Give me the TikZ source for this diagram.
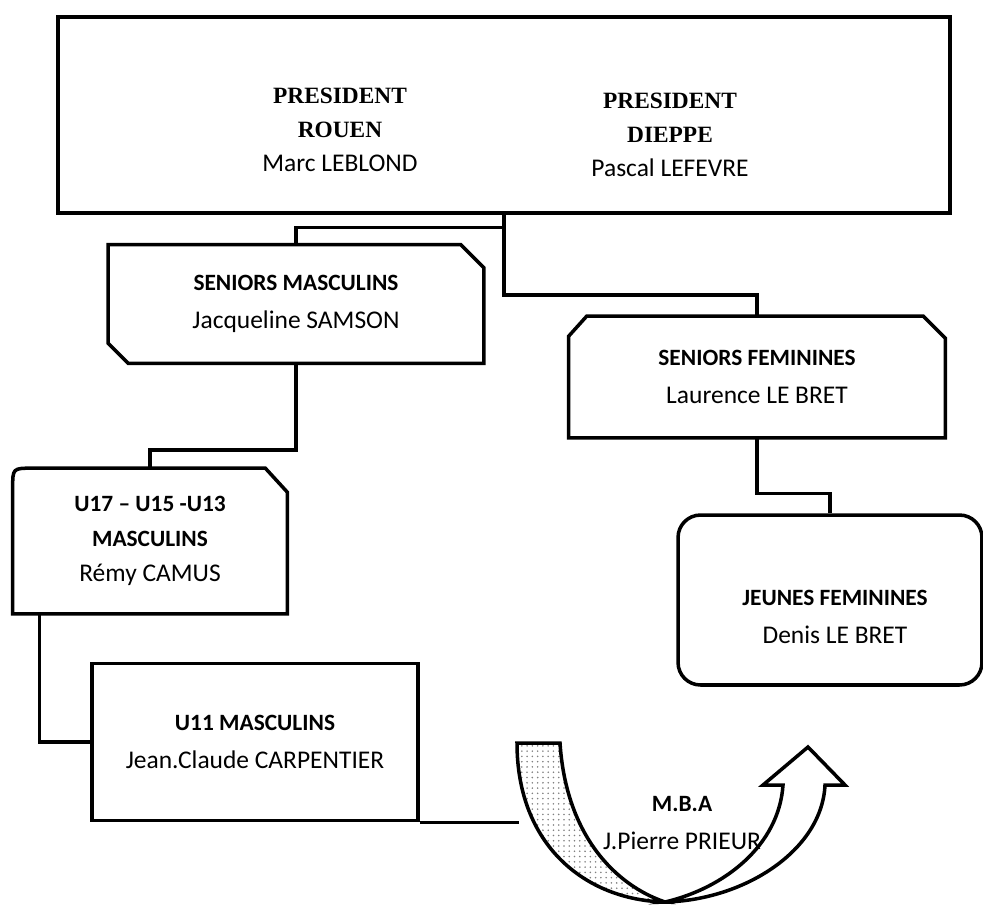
\documentclass[tikz,border=0pt]{standalone}
\usepackage{fontspec}
\setmainfont{Carlito}
\newfontfamily\presfont{Liberation Serif}
\usetikzlibrary{calc,patterns}
\newcommand\entete[1]{{\fontsize{13.3}{22}\selectfont\bfseries #1}}
\newcommand\chef[1]{{\presfont\bfseries\fontsize{13.3}{19.5}\selectfont #1}}
\begin{document}
\begin{tikzpicture}[x=0.02cm, y=-0.02cm,
  box/.style={line width=2pt},
  link/.style={line width=2pt},
  title/.style={align=center, font=\fontsize{14.5}{22}\selectfont}]
\useasboundingbox (0,0) rectangle (983,904);
% presidents
\node[draw, box, minimum width=17.84cm, minimum height=3.92cm] (pres) at (504,115) {};
\node[align=center, font=\fontsize{14.5}{19.5}\selectfont] (rouen) at (340,130)
  {\chef{PRESIDENT}\\\chef{ROUEN}\\Marc LEBLOND};
\node[align=center, font=\fontsize{14.5}{19.5}\selectfont] (dieppe) at (670,135)
  {\chef{PRESIDENT}\\\chef{DIEPPE}\\Pascal LEFEVRE};
% seniors
\node[title, minimum width=7.5cm, minimum height=2.36cm] (senmasc) at (296,304)
  {\entete{SENIORS MASCULINS}\\Jacqueline SAMSON};
\draw[box] (senmasc.north west) -- ($(senmasc.north east)+(-23,0)$) -- ($(senmasc.north east)+(0,23)$)
  -- (senmasc.south east) -- ($(senmasc.south west)+(20,0)$) -- ($(senmasc.south west)+(0,-20)$) -- cycle;
\node[title, minimum width=7.52cm, minimum height=2.42cm] (senfem) at (757,377)
  {\entete{SENIORS FEMININES}\\Laurence LE BRET};
\draw[box] (senfem.south west) -- ($(senfem.north west)+(0,20)$) -- ($(senfem.north west)+(18,0)$)
  -- ($(senfem.north east)+(-22,0)$) -- ($(senfem.north east)+(0,22)$) -- (senfem.south east) -- cycle;
% jeunes
\node[title, font=\fontsize{14.5}{20}\selectfont, minimum width=5.48cm, minimum height=2.9cm] (u17) at (150,541)
  {\entete{U17 – U15 -U13}\\\entete{MASCULINS}\\Rémy CAMUS};
\draw[box] (u17.south west) -- ($(u17.north west)+(0,20)$) .. controls (u17.north west) .. ($(u17.north west)+(20,0)$)
  -- ($(u17.north east)+(-22,0)$) -- ($(u17.north east)+(0,24)$) -- (u17.south east) -- cycle;
\node[draw, box, title, minimum width=6.52cm, minimum height=3.14cm] (u11) at (255,742)
  {\entete{U11 MASCULINS}\\Jean.Claude CARPENTIER};
\node[draw, box, rounded corners=0.45cm, minimum width=6.08cm, minimum height=3.4cm] (jf) at (830,600) {};
\node[title] (jftext) at (835,617) {\entete{JEUNES FEMININES}\\Denis LE BRET};
% liaisons
\draw[link] (pres.south) |- ($(senmasc.north)+(0,-17)$) -- (senmasc.north);
\draw[link] (pres.south) |- ($(senfem.north)+(0,-21)$) -- (senfem.north);
\draw[link] (senmasc.south) |- ($(u17.north)+(0,-18)$) -- (u17.north);
\draw[link] (senfem.south) |- ($(jf.north)+(0,-20)$) -- (jf.north);
\draw[link] ($(u17.south west)+(27,0)$) |- (u11.west);
% fleche M.B.A
\coordinate (tail) at (519,820);
\draw[link] (u11.south east) -- (u11.south east -| tail);
\draw[box, fill=white] (665,902) .. controls (745,900) and (822,850) .. (825,785) -- (845,785) -- (808,747)
  -- (763,785) -- (783,785) .. controls (779,845) and (725,888) .. (665,902) -- cycle;
\draw[box, pattern=dots, pattern color=gray] (517,743) -- (560,743) .. controls (566,835) and (615,885) .. (665,902)
  .. controls (585,900) and (517,845) .. (517,743) -- cycle;
\node[title] (mba) at (682,823) {\entete{M.B.A}\\J.Pierre PRIEUR};
\end{tikzpicture}
\end{document}
